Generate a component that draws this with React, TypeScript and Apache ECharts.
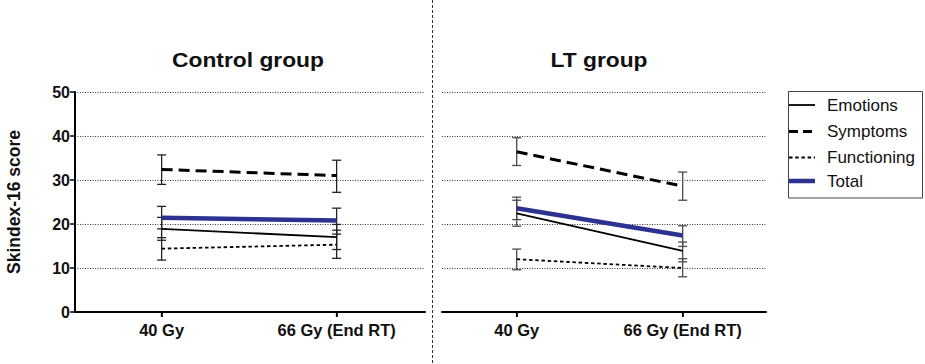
import React, { useEffect, useRef } from "react";
import * as echarts from "echarts";

const categories = ["40 Gy", "66 Gy (End RT)"];

// Control group
const emotionsCtrl = [18.9, 17.0];
const emotionsCtrlLow = [16.3, 14.2];
const emotionsCtrlHigh = [21.5, 19.9];
const symptomsCtrl = [32.4, 31.0];
const symptomsCtrlLow = [29.0, 27.2];
const symptomsCtrlHigh = [35.7, 34.5];
const functioningCtrl = [14.4, 15.3];
const functioningCtrlLow = [11.8, 12.2];
const functioningCtrlHigh = [16.9, 18.6];
const totalCtrl = [21.4, 20.8];
const totalCtrlLow = [18.9, 17.7];
const totalCtrlHigh = [24.0, 23.6];

// LT group
const emotionsLT = [22.4, 13.9];
const emotionsLTLow = [19.5, 11.4];
const emotionsLTHigh = [25.4, 15.9];
const symptomsLT = [36.4, 28.6];
const symptomsLTLow = [33.3, 25.4];
const symptomsLTHigh = [39.6, 31.8];
const functioningLT = [12.0, 10.0];
const functioningLTLow = [9.6, 8.0];
const functioningLTHigh = [14.3, 12.1];
const totalLT = [23.6, 17.4];
const totalLTLow = [21.0, 14.9];
const totalLTHigh = [26.1, 19.6];

const legendNames = ["Emotions", "Symptoms", "Functioning", "Total"];

const FONT = "'Liberation Sans', Arial, Helvetica, sans-serif";
const BLUE = "#2D3190";

const styles: Record<string, any> = {
  Emotions: { color: "#000", width: 1.8, type: "solid" },
  Symptoms: { color: "#000", width: 3, type: [11, 6] },
  Functioning: { color: "#000", width: 1.8, type: [3.5, 2.7] },
  Total: { color: BLUE, width: 4.5, type: "solid" },
};

const xRanges = [
  [-0.495, 1.505],
  [-0.45, 1.502],
];

const toPts = (vals: number[]) => vals.map((v, i) => [i, v]);
const toErr = (lo: number[], hi: number[]) => lo.map((l, i) => [i, l, hi[i]]);

export default function App() {
  const ref = useRef<HTMLDivElement>(null);
  useEffect(() => {
    if (!ref.current) return;
    const chart = echarts.init(ref.current, null, { renderer: "svg" });

    const errRender = (color: string) => (params: any, api: any) => {
      const x = api.value(0);
      const lo = api.coord([x, api.value(1)]);
      const hi = api.coord([x, api.value(2)]);
      const hw = 4.5;
      const st = { stroke: color, lineWidth: 1.3 };
      return {
        type: "group",
        children: [
          { type: "line", shape: { x1: lo[0], y1: lo[1], x2: hi[0], y2: hi[1] }, style: st },
          { type: "line", shape: { x1: lo[0] - hw, y1: lo[1], x2: lo[0] + hw, y2: lo[1] }, style: st },
          { type: "line", shape: { x1: hi[0] - hw, y1: hi[1], x2: hi[0] + hw, y2: hi[1] }, style: st },
        ],
      };
    };

    const panels = [
      {
        data: [emotionsCtrl, symptomsCtrl, functioningCtrl, totalCtrl],
        lo: [emotionsCtrlLow, symptomsCtrlLow, functioningCtrlLow, totalCtrlLow],
        hi: [emotionsCtrlHigh, symptomsCtrlHigh, functioningCtrlHigh, totalCtrlHigh],
        err: "#222",
      },
      {
        data: [emotionsLT, symptomsLT, functioningLT, totalLT],
        lo: [emotionsLTLow, symptomsLTLow, functioningLTLow, totalLTLow],
        hi: [emotionsLTHigh, symptomsLTHigh, functioningLTHigh, totalLTHigh],
        err: "#4a4a4a",
      },
    ];

    const series: any[] = [];
    panels.forEach((p, gi) => {
      legendNames.forEach((name, si) => {
        series.push({
          type: "custom",
          name: name + "-err",
          xAxisIndex: gi,
          yAxisIndex: gi,
          renderItem: errRender(p.err),
          data: toErr(p.lo[si], p.hi[si]),
          z: 2,
          silent: true,
        });
      });
      legendNames.forEach((name, si) => {
        const s = styles[name];
        series.push({
          type: "line",
          name,
          xAxisIndex: gi,
          yAxisIndex: gi,
          data: toPts(p.data[si]),
          showSymbol: false,
          symbol: "none",
          lineStyle: { color: s.color, width: s.width, type: s.type, cap: "butt" },
          z: name === "Total" ? 4 : 3,
          silent: true,
        });
      });
    });

    const xAxisBase = (gi: number) => ({
      type: "value",
      gridIndex: gi,
      min: xRanges[gi][0],
      max: xRanges[gi][1],
      splitLine: { show: false },
      axisLine: { show: true, onZero: false, lineStyle: { color: "#000", width: 2 } },
      axisTick: {
        show: true,
        customValues: [0, 1],
        length: 5,
        lineStyle: { color: "#000", width: 1.5 },
      },
      axisLabel: {
        customValues: [0, 1],
        formatter: (v: number) => categories[Math.round(v)] ?? "",
        fontFamily: FONT,
        fontWeight: "bold",
        fontSize: 16.5,
        color: "#111",
        margin: 9,
      },
    });

    const yAxisBase = (gi: number, showAxis: boolean) => ({
      type: "value",
      gridIndex: gi,
      min: 0,
      max: 50,
      interval: 10,
      name: showAxis ? "Skindex-16 score" : "",
      nameLocation: "middle",
      nameGap: 52,
      nameRotate: 90,
      nameTextStyle: { fontFamily: FONT, fontWeight: "bold", fontSize: 17.5, color: "#111" },
      axisLine: { show: showAxis, onZero: false, lineStyle: { color: "#000", width: 2 } },
      axisTick: { show: showAxis, length: 5, lineStyle: { color: "#000", width: 1.5 } },
      axisLabel: {
        show: showAxis,
        fontFamily: FONT,
        fontWeight: "bold",
        fontSize: 16,
        color: "#111",
        margin: 5,
      },
      splitLine: {
        show: true,
        showMinLine: false,
        lineStyle: { color: "#333", width: 1, type: [1, 1.5] },
      },
    });

    const legendTop = 92;
    const legendRowY = [105, 131.5, 157.5, 181];
    const graphic: any[] = [
      {
        type: "line",
        shape: { x1: 432.5, y1: 0, x2: 432.5, y2: 364 },
        style: { stroke: "#333", lineWidth: 1, lineDash: [3, 2] },
        silent: true,
      },
      {
        type: "text",
        x: 248,
        y: 60,
        scaleX: 1.14,
        style: {
          text: "Control group",
          font: `bold 20px ${FONT}`,
          fill: "#111",
          textAlign: "center",
          textVerticalAlign: "middle",
        },
      },
      {
        type: "text",
        x: 599,
        y: 60,
        scaleX: 1.14,
        style: {
          text: "LT group",
          font: `bold 20px ${FONT}`,
          fill: "#111",
          textAlign: "center",
          textVerticalAlign: "middle",
        },
      },
      {
        type: "rect",
        shape: { x: 788.5, y: legendTop - 0.5, width: 134, height: 106.5 },
        style: { fill: "#fff", stroke: "#444", lineWidth: 1 },
        z: 10,
      },
    ];
    legendNames.forEach((name, i) => {
      const s = styles[name];
      const dash =
        name === "Symptoms" ? [9, 5] : name === "Functioning" ? [3.5, 2.7] : undefined;
      graphic.push({
        type: "line",
        shape: { x1: 789, y1: legendRowY[i], x2: 815, y2: legendRowY[i] },
        style: { stroke: s.color, lineWidth: s.width, lineDash: dash },
        z: 11,
      });
      graphic.push({
        type: "text",
        x: 827,
        y: legendRowY[i],
        style: {
          text: name,
          font: `17px ${FONT}`,
          fill: "#111",
          textAlign: "left",
          textVerticalAlign: "middle",
        },
        z: 11,
      });
    });

    chart.setOption({
      animation: false,
      grid: [
        { left: 75, top: 92, width: 350, height: 220 },
        { left: 442, top: 92, width: 324, height: 220 },
      ],
      xAxis: [xAxisBase(0), xAxisBase(1)],
      yAxis: [yAxisBase(0, true), yAxisBase(1, false)],
      series,
    });

    // Horizontal axis lines and category ticks, positioned through the axis scales
    [0, 1].forEach((gi) => {
      const finder = { xAxisIndex: gi, yAxisIndex: gi };
      const a = chart.convertToPixel(finder, [xRanges[gi][0], 0]) as number[];
      const b = chart.convertToPixel(finder, [xRanges[gi][1], 0]) as number[];
      if (!a || !b) return;
      graphic.push({
        type: "line",
        shape: { x1: a[0] - (gi === 0 ? 1 : 0), y1: a[1], x2: b[0], y2: b[1] },
        style: { stroke: "#000", lineWidth: 2 },
        z: 20,
        silent: true,
      });
      categories.forEach((c, i) => {
        const t = chart.convertToPixel(finder, [i, 0]) as number[];
        graphic.push({
          type: "line",
          shape: { x1: t[0], y1: t[1], x2: t[0], y2: t[1] + 5 },
          style: { stroke: "#000", lineWidth: 1.5 },
          z: 20,
          silent: true,
        });
      });
    });

    chart.setOption({ graphic });

    return () => chart.dispose();
  }, []);

  return (
    <div
      ref={ref}
      style={{ position: "fixed", left: 0, top: 0, width: 925, height: 364, background: "#fff" }}
    />
  );
}
